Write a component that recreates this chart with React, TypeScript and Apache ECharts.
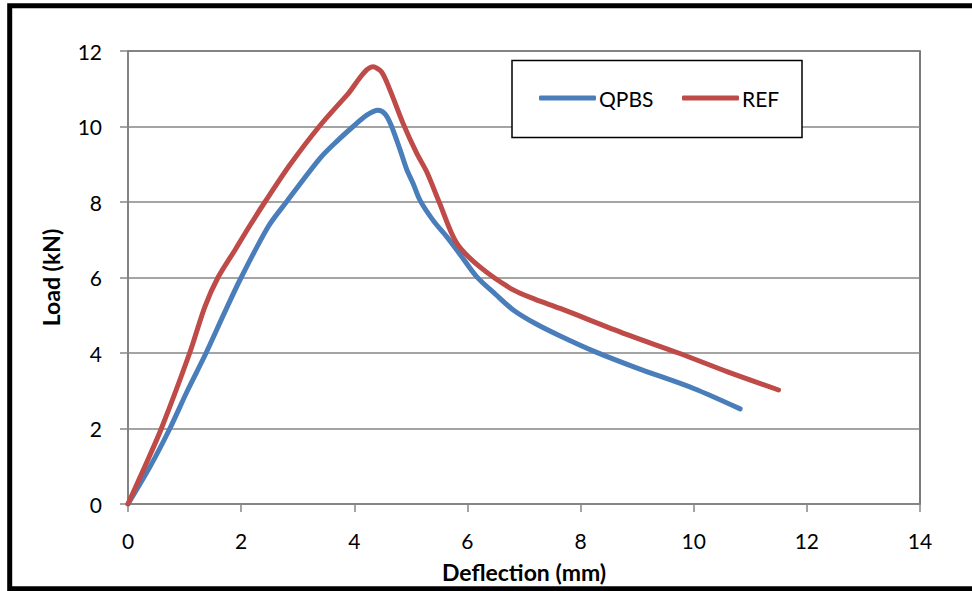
import React, { useEffect, useRef } from "react";
import * as echarts from "echarts";

const seriesNames = ["QPBS", "REF"];
const xTicks = [0, 2, 4, 6, 8, 10, 12, 14];
const yTicks = [0, 2, 4, 6, 8, 10, 12];

const qpbsX = [0, 0.39, 0.74, 1.05, 1.38, 1.7, 2.0, 2.48, 2.8, 3.39, 3.7, 3.98, 4.22, 4.42, 4.55, 4.66, 4.81, 4.93, 5.04, 5.16, 5.4, 5.64, 5.9, 6.17, 6.5, 6.81, 7.2, 7.64, 8.23, 9.0, 10.0, 10.82];
const qpbsY = [0, 0.99, 2.0, 3.0, 4.0, 5.05, 6.0, 7.35, 8.0, 9.15, 9.62, 10.0, 10.3, 10.43, 10.32, 10.0, 9.38, 8.85, 8.49, 8.05, 7.5, 7.07, 6.55, 6.01, 5.55, 5.14, 4.78, 4.45, 4.05, 3.6, 3.06, 2.52];

const refX = [0, 0.3, 0.59, 1.09, 1.36, 1.59, 1.9, 2.16, 2.42, 2.86, 3.38, 3.87, 4.33, 4.48, 4.63, 4.86, 5.1, 5.28, 5.5, 5.81, 6.22, 6.81, 7.2, 7.64, 8.8, 9.73, 10.6, 11.5];
const refY = [0, 1.0, 2.0, 4.0, 5.23, 6.0, 6.75, 7.39, 8.0, 8.98, 10.0, 10.83, 11.58, 11.45, 10.97, 10.09, 9.3, 8.8, 8.0, 6.91, 6.28, 5.67, 5.42, 5.18, 4.5, 4.0, 3.5, 3.02];

const colors = ["#4A7EBB", "#BE4B48"];
const FONT = "Lato, 'Open Sans', sans-serif";

export default function App() {
  const ref = useRef<HTMLDivElement>(null);

  useEffect(() => {
    if (!ref.current) return;
    const chart = echarts.init(ref.current, null, { renderer: "svg" });
    const qpbs = qpbsX.map((x, i) => [x, qpbsY[i]]);
    const refd = refX.map((x, i) => [x, refY[i]]);
    const legendText = { fontFamily: FONT, fontSize: 21, color: "#000", lineHeight: 22, padding: [0, 0, 0, -2] };
    chart.setOption({
      animation: false,
      backgroundColor: "#ffffff",
      textStyle: { fontFamily: FONT },
      grid: {
        left: 128,
        right: 52,
        top: 51,
        bottom: 87,
        show: true,
        borderColor: "#505050",
        borderWidth: 1.5,
        backgroundColor: "transparent",
      },
      legend: [
        {
          data: [seriesNames[0]],
          left: 539,
          top: 87,
          padding: 0,
          itemWidth: 57,
          itemHeight: 5,
          icon: "roundRect",
          z: 10,
          textStyle: legendText,
        },
        {
          data: [seriesNames[1]],
          left: 682,
          top: 87,
          padding: 0,
          itemWidth: 57,
          itemHeight: 5,
          icon: "roundRect",
          z: 10,
          textStyle: legendText,
        },
      ],
      graphic: [
        {
          type: "rect",
          z: 5,
          shape: { x: 512, y: 60.5, width: 290, height: 77 },
          style: { fill: "#fff", stroke: "#000", lineWidth: 1.5 },
        },
        {
          type: "rect",
          z: 20,
          silent: true,
          shape: { x: 9.7, y: 5.8, width: 975, height: 583 },
          style: { fill: "none", stroke: "#000", lineWidth: 5 },
        },
      ],
      xAxis: {
        type: "value",
        min: xTicks[0],
        max: xTicks[xTicks.length - 1],
        interval: 2,
        name: "Deflection (mm)",
        nameLocation: "middle",
        nameGap: 56,
        nameTextStyle: { fontFamily: FONT, fontSize: 23, fontWeight: "bold", color: "#000" },
        axisLine: { lineStyle: { color: "#868686", width: 1.5 } },
        axisTick: { show: true, length: 8, lineStyle: { color: "#868686", width: 1.5 } },
        axisLabel: { fontFamily: FONT, fontSize: 21, color: "#000", margin: 26 },
        splitLine: { show: false },
      },
      yAxis: {
        type: "value",
        min: yTicks[0],
        max: yTicks[yTicks.length - 1],
        interval: 2,
        name: "Load (kN)",
        nameLocation: "middle",
        nameGap: 66,
        nameRotate: 90,
        nameTextStyle: { fontFamily: FONT, fontSize: 23, fontWeight: "bold", color: "#000" },
        axisLine: { show: true, lineStyle: { color: "#868686", width: 1.5 } },
        axisTick: { show: true, length: 8, lineStyle: { color: "#868686", width: 1.5 } },
        axisLabel: { fontFamily: FONT, fontSize: 21, color: "#000", margin: 26 },
        splitLine: { show: true, lineStyle: { color: "#868686", width: 1.5 } },
      },
      series: [
        {
          name: seriesNames[0],
          type: "line",
          data: qpbs,
          showSymbol: false,
          symbol: "none",
          smooth: 0.3,
          color: colors[0],
          lineStyle: { width: 5, color: colors[0], cap: "round", join: "round" },
        },
        {
          name: seriesNames[1],
          type: "line",
          data: refd,
          showSymbol: false,
          symbol: "none",
          smooth: 0.3,
          color: colors[1],
          lineStyle: { width: 5, color: colors[1], cap: "round", join: "round" },
        },
      ],
    });
    return () => chart.dispose();
  }, []);

  return (
    <div
      ref={ref}
      style={{ position: "fixed", left: 0, top: 0, width: 972, height: 591, background: "#fff" }}
    />
  );
}
